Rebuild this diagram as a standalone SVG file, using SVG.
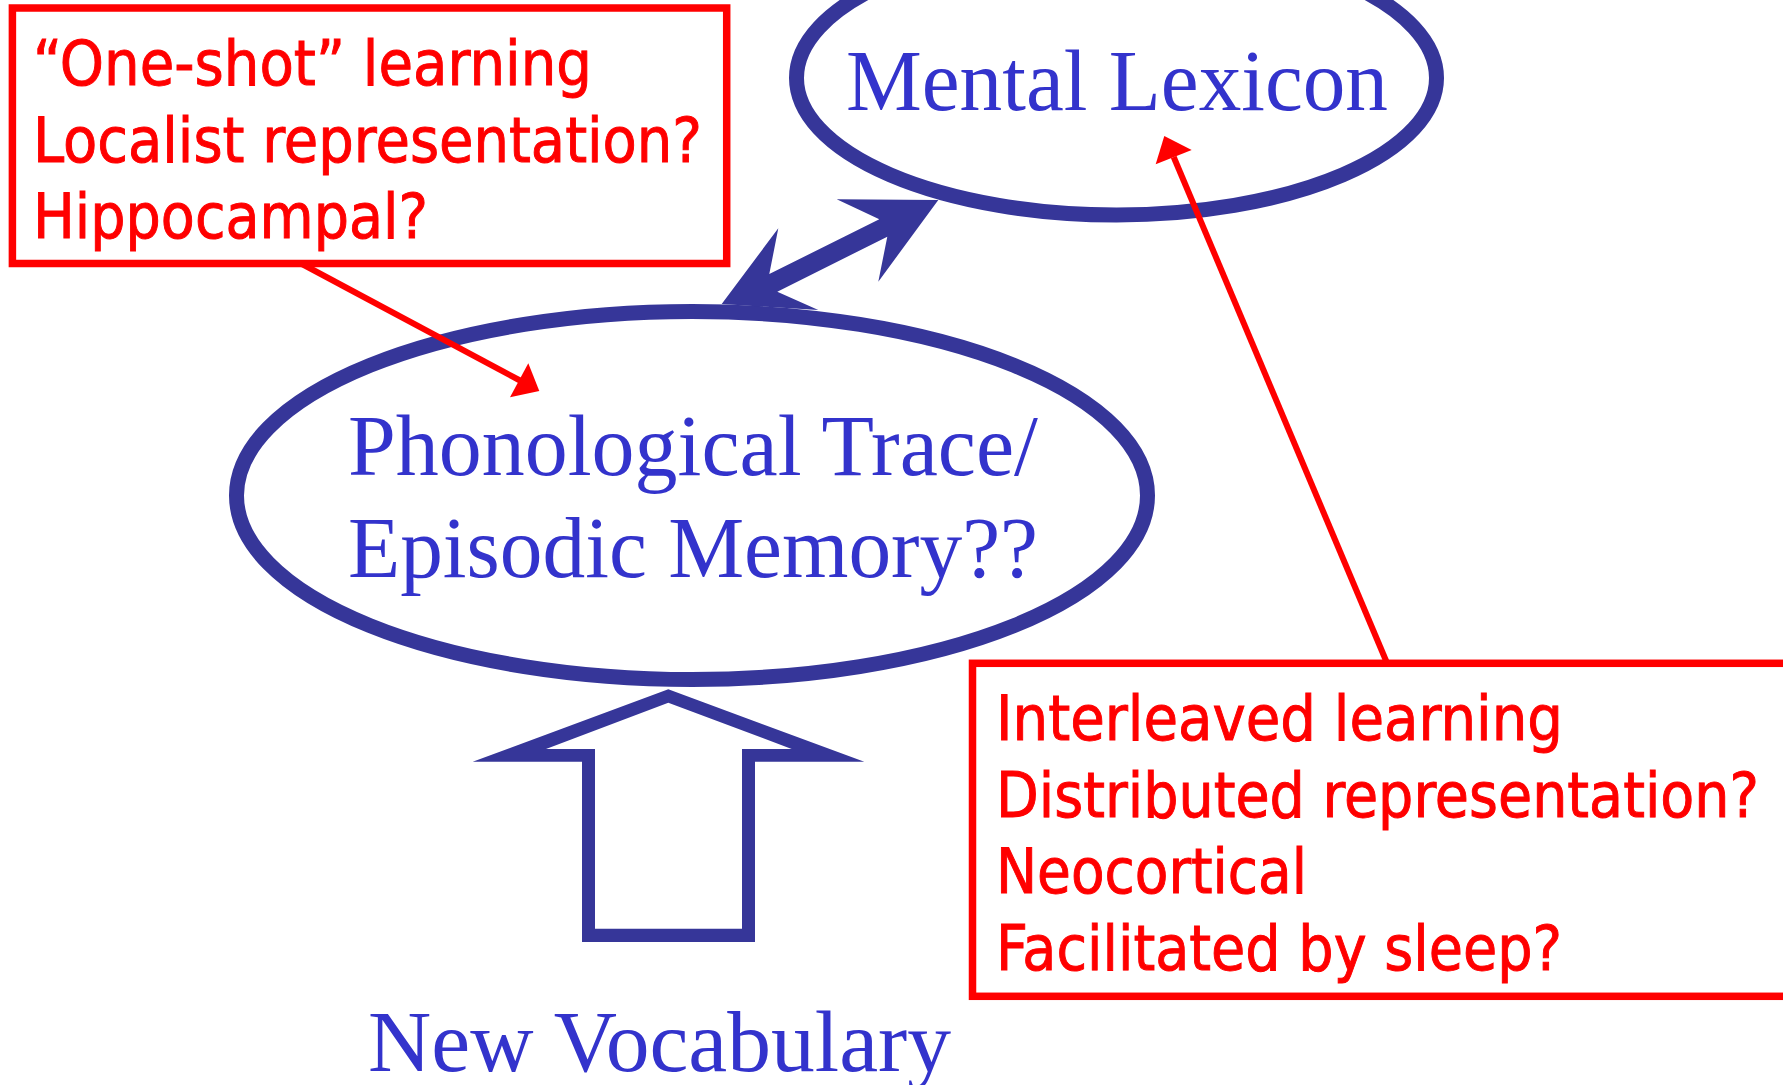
<svg xmlns="http://www.w3.org/2000/svg" width="1783" height="1085" viewBox="0 0 1783 1085">
  <style>
    .oval { fill: #ffffff; stroke: #363699; }
    .blue-fill { fill: #363699; }
    .serif { font-family: "Liberation Serif", "Times New Roman", serif; font-size: 86px; fill: #3333cc; }
    .note-box { fill: #ffffff; stroke: #ff0000; stroke-width: 7.5; }
    .note { font-family: "DejaVu Sans Condensed", "DejaVu Sans", sans-serif; font-size: 63px; fill: #ff0000; stroke: #ff0000; stroke-width: 0.9; }
    .red-line { stroke: #ff0000; stroke-width: 6; fill: none; }
    .red-head { fill: #ff0000; }
  </style>

  <!-- Long-term lexicon -->
  <g id="mental-lexicon">
    <ellipse class="oval" cx="1116.5" cy="78" rx="320" ry="137" stroke-width="15"/>
    <text class="serif" x="846" y="110" textLength="542" lengthAdjust="spacingAndGlyphs">Mental Lexicon</text>
  </g>

  <!-- Short-term phonological / episodic store -->
  <g id="phonological-trace">
    <ellipse class="oval" cx="692" cy="495.5" rx="455.5" ry="184" stroke-width="15"/>
    <text class="serif" x="348" y="475" textLength="690" lengthAdjust="spacingAndGlyphs">Phonological Trace/</text>
    <text class="serif" x="348" y="577" textLength="690" lengthAdjust="spacingAndGlyphs">Episodic Memory??</text>
  </g>

  <!-- Input label -->
  <g id="new-vocabulary">
    <text class="serif" x="368" y="1071" textLength="583" lengthAdjust="spacingAndGlyphs">New Vocabulary</text>
  </g>

  <!-- Annotation: fast learning system -->
  <g id="note-hippocampal">
    <rect class="note-box" x="12.4" y="8" width="714.3" height="255.5"/>
    <text class="note" x="33" y="85" textLength="559" lengthAdjust="spacingAndGlyphs">“One-shot” learning</text>
    <text class="note" x="33" y="162" textLength="669" lengthAdjust="spacingAndGlyphs">Localist representation?</text>
    <text class="note" x="33" y="238" textLength="395" lengthAdjust="spacingAndGlyphs">Hippocampal?</text>
  </g>

  <!-- Annotation: slow learning system -->
  <g id="note-neocortical">
    <rect class="note-box" x="972.5" y="663.3" width="840" height="333"/>
    <text class="note" x="996" y="740" textLength="567" lengthAdjust="spacingAndGlyphs">Interleaved learning</text>
    <text class="note" x="996" y="817" textLength="763" lengthAdjust="spacingAndGlyphs">Distributed representation?</text>
    <text class="note" x="996" y="893" textLength="311" lengthAdjust="spacingAndGlyphs">Neocortical</text>
    <text class="note" x="996" y="970" textLength="566" lengthAdjust="spacingAndGlyphs">Facilitated by sleep?</text>
  </g>

  <g id="connectors">
    <!-- two-way transfer between the stores -->
    <polygon class="blue-fill" points="938.3,200 836.7,199.3 879.3,219.3 769.3,274 778.3,228.3 721.7,304 818.3,310 777.3,291.7 887.3,236.7 878.3,281.7"/>

    <!-- hollow block arrow: new words into the phonological store -->
    <path class="blue-fill" fill-rule="evenodd" d="M668.3,689.3 L864.3,761.7 L755,761.7 L755,942 L582,942 L582,761.7 L472.7,761.7 Z M668.3,702.7 L546,749 L595,749 L595,928.7 L742,928.7 L742,749 L791.7,749 Z"/>

    <!-- annotation pointers -->
    <line class="red-line" x1="302" y1="264" x2="520" y2="380.5"/>
    <polygon class="red-head" points="539.3,391 528.3,363.3 510,397.3"/>

    <line class="red-line" x1="1387" y1="663" x2="1173.7" y2="157"/>
    <polygon class="red-head" points="1164.3,136 1155.7,164.3 1191.7,150"/>
  </g>
</svg>
